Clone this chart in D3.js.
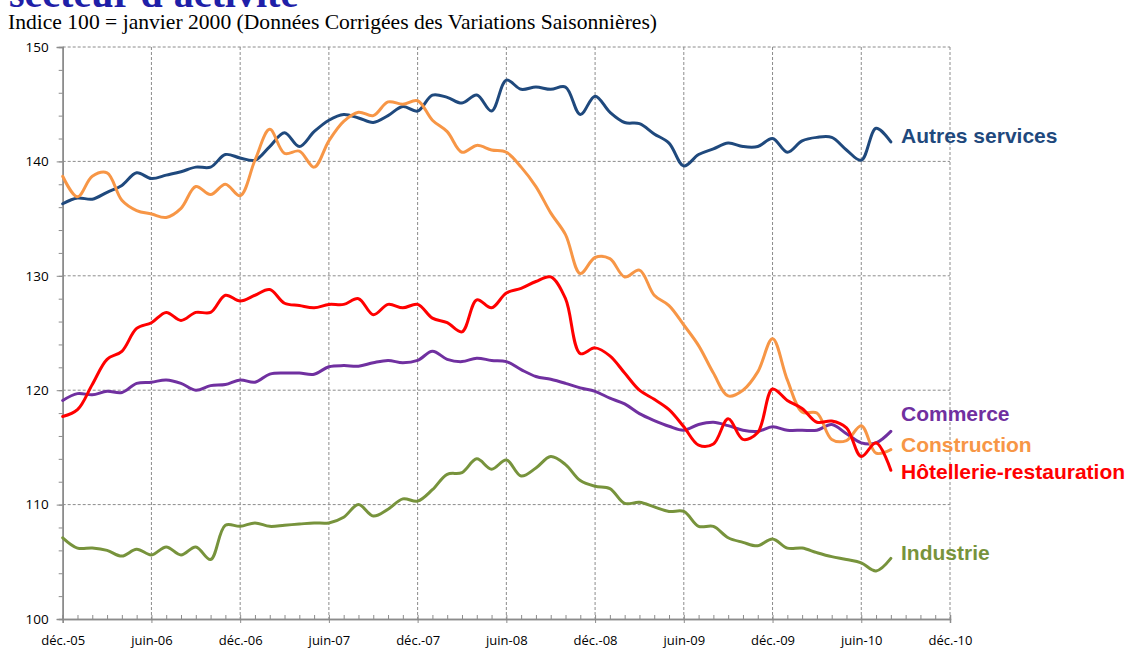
<!DOCTYPE html>
<html>
<head>
<meta charset="utf-8">
<script src="https://cdn.jsdelivr.net/npm/d3@7/dist/d3.min.js"></script>
<style>
  html, body { margin: 0; padding: 0; background: #fff; }
  svg { display: block; }
</style>
</head>
<body>
<svg id="chart" width="1130" height="651"></svg>
<script>
// Month index 0 = déc.-05, monthly, last point = août-10 (index 56)
const months = d3.range(0, 57);
const tickIndex = [0, 6, 12, 18, 24, 30, 36, 42, 48, 54, 60];
const tickLabels = ["déc.-05", "juin-06", "déc.-06", "juin-07", "déc.-07", "juin-08", "déc.-08", "juin-09", "déc.-09", "juin-10", "déc.-10"];
const yTicks = [100, 110, 120, 130, 140, 150];

const autresServices = [136.3,136.8,136.7,137.3,137.9,139.0,138.5,138.8,139.1,139.5,139.5,140.6,140.3,140.1,141.3,142.5,141.3,142.6,143.6,144.1,143.8,143.4,144.0,144.8,144.4,145.8,145.6,145.1,145.8,144.4,147.1,146.3,146.5,146.3,146.5,144.1,145.7,144.3,143.4,143.3,142.4,141.6,139.6,140.6,141.1,141.6,141.3,141.3,142.0,140.8,141.8,142.1,142.1,141.0,140.1,142.9,141.7];
const construction = [138.7,136.9,138.7,139.0,136.6,135.7,135.4,135.1,135.9,137.8,137.1,138.0,137.0,140.1,142.8,140.7,140.9,139.5,141.8,143.5,144.3,144.0,145.2,145.0,145.3,143.6,142.6,140.8,141.4,141.0,140.8,139.5,137.8,135.5,133.6,130.2,131.6,131.5,129.9,130.5,128.3,127.4,125.7,123.9,121.5,119.5,120.0,121.6,124.5,120.9,118.1,118.0,115.7,115.6,116.9,114.5,114.8];
const hotellerie = [117.7,118.3,120.5,122.7,123.4,125.4,125.9,126.8,126.1,126.8,126.8,128.3,127.8,128.3,128.8,127.6,127.4,127.2,127.5,127.5,128.0,126.6,127.5,127.2,127.5,126.3,125.9,125.1,127.9,127.2,128.5,128.9,129.5,129.9,128.0,123.2,123.7,123.0,121.5,120.0,119.2,118.3,116.8,115.2,115.3,117.5,115.7,116.3,120.1,119.1,118.4,117.2,117.3,116.7,114.2,115.4,113.0];
const commerce = [119.1,119.7,119.6,119.9,119.8,120.6,120.7,120.9,120.6,120.0,120.4,120.5,120.9,120.7,121.4,121.5,121.5,121.4,122.05,122.15,122.1,122.4,122.6,122.4,122.6,123.4,122.7,122.5,122.8,122.6,122.5,121.8,121.2,120.95,120.6,120.2,119.9,119.3,118.8,117.95,117.35,116.85,116.5,117.0,117.2,116.9,116.5,116.4,116.8,116.5,116.5,116.5,117.0,116.2,115.4,115.4,116.4];
const industrie = [107.1,106.2,106.2,106.0,105.5,106.1,105.6,106.3,105.6,106.3,105.2,108.2,108.1,108.4,108.1,108.2,108.3,108.4,108.4,108.9,110.0,109.0,109.6,110.5,110.3,111.3,112.65,112.8,114.0,113.1,113.9,112.5,113.2,114.2,113.5,112.1,111.6,111.4,110.1,110.2,109.8,109.4,109.4,108.1,108.1,107.1,106.7,106.4,107.0,106.2,106.2,105.8,105.45,105.2,104.9,104.2,105.3];

const seriesNames = ["Autres services", "Commerce", "Construction", "Hôtellerie-restauration", "Industrie"];
const seriesValues = [autresServices, commerce, construction, hotellerie, industrie];
const seriesColors = ["#1F497D", "#7030A0", "#F79646", "#FF0000", "#77933C"];
const labelY = [141.6, 117.3, 114.6, 112.2, 105.2]; // label baseline, in index units

const svg = d3.select("#chart");
const x = d3.scaleLinear().domain([0, 60]).range([62.7, 950]);
const y = d3.scaleLinear().domain([100, 150]).range([619, 47]);

// Title (cut off at top, as in the source)
svg.append("text").attr("x", 9).attr("y", 7)
  .attr("font-family", "Liberation Serif, serif").attr("font-weight", "bold")
  .attr("font-size", 40).attr("fill", "#1F1FA8").text("secteur d'activité");
svg.append("text").attr("x", 8).attr("y", 29)
  .attr("font-family", "Liberation Serif, serif").attr("font-size", 21.5)
  .attr("textLength", 649).attr("lengthAdjust", "spacingAndGlyphs")
  .attr("fill", "#000").text("Indice 100 = janvier 2000 (Données Corrigées des Variations Saisonnières)");

// Gridlines
const grid = svg.append("g");
grid.selectAll("line.h").data(yTicks.filter(d => d > 100)).enter().append("line")
  .attr("x1", x(0)).attr("x2", x(60)).attr("y1", d => y(d)).attr("y2", d => y(d))
  .attr("stroke", "#8c8c8c").attr("stroke-width", 1).attr("stroke-dasharray", "3,2");
grid.selectAll("line.v").data(tickIndex.filter(d => d > 0)).enter().append("line")
  .attr("x1", d => x(d)).attr("x2", d => x(d)).attr("y1", y(150)).attr("y2", y(100))
  .attr("stroke", "#8c8c8c").attr("stroke-width", 1).attr("stroke-dasharray", "3,2");

// Axes
const axisColor = "#8c8c8c";
const yAxisG = svg.append("g").attr("transform", `translate(${x(0)},0)`)
  .call(d3.axisLeft(y).tickValues(d3.range(100, 151, 2)).tickSize(4).tickFormat(""));
const yMajor = svg.append("g").attr("transform", `translate(${x(0)},0)`)
  .call(d3.axisLeft(y).tickValues(yTicks).tickSize(6).tickPadding(8).tickFormat(d3.format("d")));
const xMinor = svg.append("g").attr("transform", `translate(0,${y(100)})`)
  .call(d3.axisTop(x).tickValues(d3.range(0, 61, 1)).tickSize(4).tickFormat(""));
const xMajor = svg.append("g").attr("transform", `translate(0,${y(100)})`)
  .call(d3.axisBottom(x).tickValues(tickIndex).tickSize(4).tickPadding(13)
    .tickFormat((d, i) => tickLabels[i]));
[yAxisG, yMajor, xMinor, xMajor].forEach(g => {
  g.selectAll("path.domain").attr("stroke", axisColor).attr("stroke-width", 1.5);
  g.selectAll(".tick line").attr("stroke", axisColor);
  g.selectAll("text").attr("font-family", "Open Sans, sans-serif").attr("font-size", 13).attr("fill", "#000");
});
yMajor.selectAll("text").attr("font-size", 13.5);

// Lines
const line = d3.line().x((d, i) => x(months[i])).y(d => y(d)).curve(d3.curveCatmullRom.alpha(0.5));
const linesG = svg.append("g");
seriesValues.forEach((vals, k) => {
  linesG.append("path").datum(vals)
    .attr("fill", "none").attr("stroke", seriesColors[k]).attr("stroke-width", 3)
    .attr("stroke-linejoin", "round").attr("stroke-linecap", "round")
    .attr("d", line);
});

// Labels
seriesNames.forEach((name, k) => {
  svg.append("text").attr("x", 901).attr("y", y(labelY[k]))
    .attr("font-family", "Liberation Sans, Arial, sans-serif").attr("font-weight", "bold")
    .attr("font-size", 21).attr("fill", seriesColors[k]).text(name);
});
</script>
</body>
</html>
